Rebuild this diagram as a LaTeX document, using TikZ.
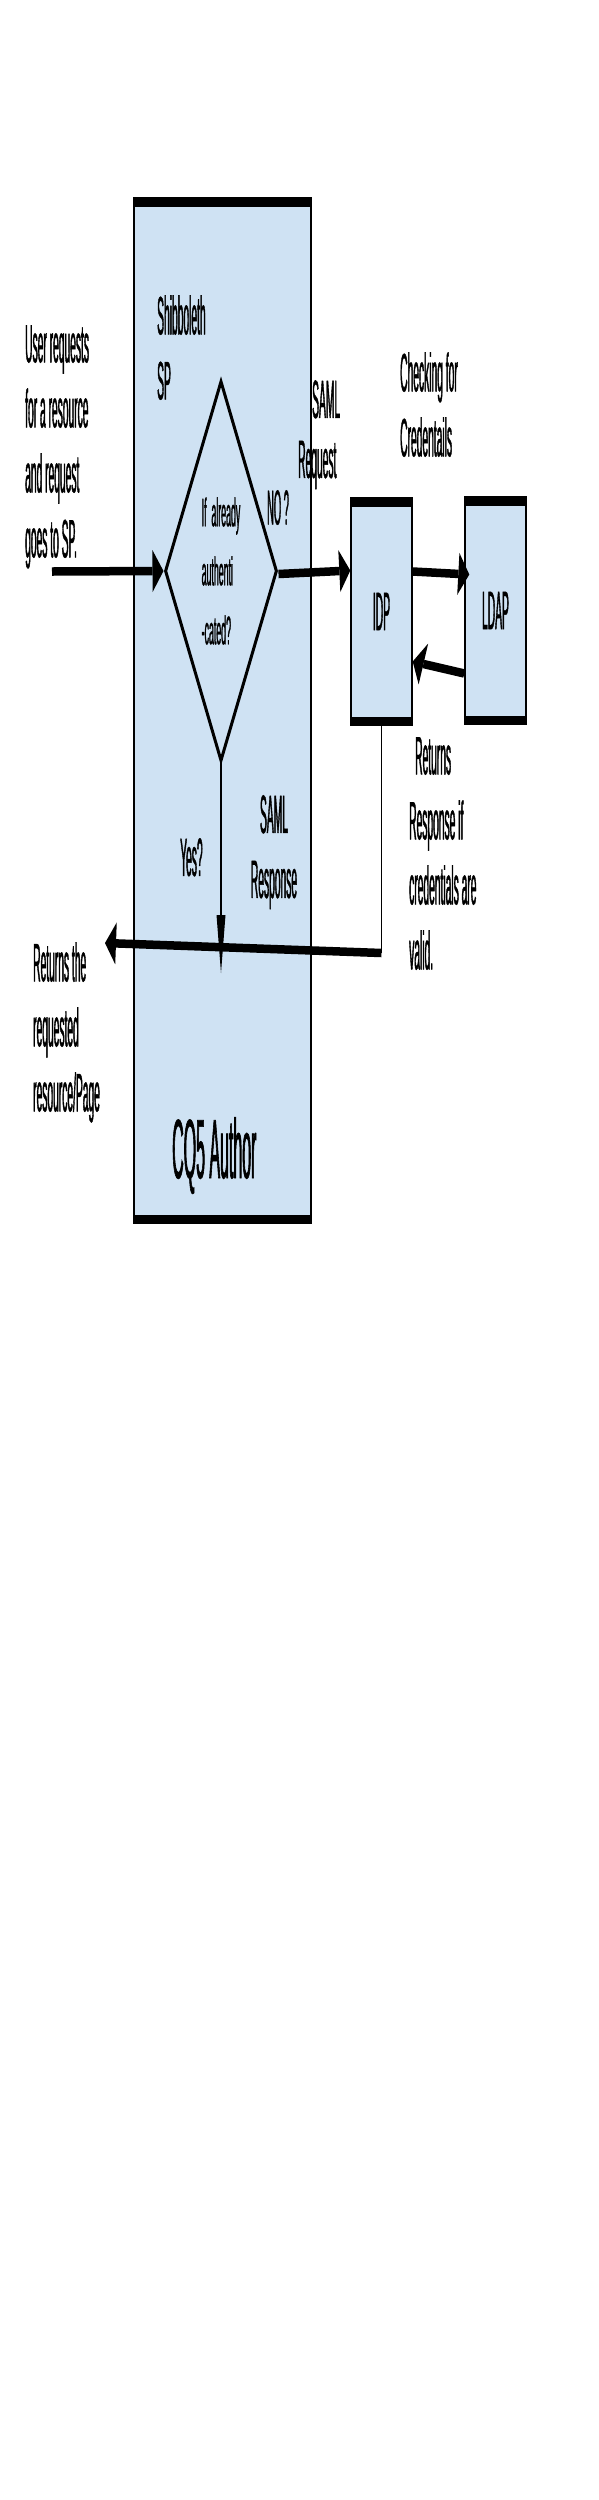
\documentclass[tikz,border=0pt]{standalone}
\usepackage{fontspec}
\setmainfont[FakeStretch=0.19,FakeBold=0.7]{Liberation Sans}
\newfontfamily\diamondfont[FakeStretch=0.22,FakeBold=0.7]{Liberation Sans}
\usetikzlibrary{arrows.meta,shapes.geometric}
\definecolor{boxblue}{HTML}{CFE2F3}

\tikzset{
  barbox/.style={draw=black, line width=1.4pt, fill=boxblue, inner sep=0pt,
    font=\fontsize{54}{65}\selectfont,
    path picture={
      \fill[black] (path picture bounding box.north west) rectangle ([yshift=-8.5pt]path picture bounding box.north east);
      \fill[black] (path picture bounding box.south west) rectangle ([yshift=8.5pt]path picture bounding box.south east);
    }},
  label text/.style={inner sep=0pt, anchor=north west, align=left, font=\fontsize{54}{65}\selectfont},
  fat arrow/.style={line width=8.5pt, -{Triangle[length=11pt,width=42pt,line width=0pt]}},
}

\begin{document}
\begin{tikzpicture}[x=1pt, y=-1pt]
    \useasboundingbox (0,0) rectangle (599,2500);
    \fill[white] (0,0) rectangle (599,2500);

    \node[barbox, minimum width=177pt, minimum height=1025pt] (cqfive) at (222.5,710.5) {};
    \node[barbox, minimum width=61pt, minimum height=227pt] (idp) at (381.5,611.5) {IDP};
    \node[barbox, minimum width=61pt, minimum height=227pt] (ldap) at (495.5,610.5) {LDAP};

    \node[diamond, draw, line width=3pt, aspect=0.295, minimum width=112pt, minimum height=380pt,
          inner sep=0pt, align=left, font=\diamondfont\fontsize{40}{59}\selectfont]
          (authq) at (221,571) {If\ \ already\\authenti\\-cated?};

    \node[label text] (shibsp) at (157,295) {Shibboleth\\SP};
    \node[label text] (userreq) at (25,325) {User requests\\for a resource\\and request\\goes to SP.};
    \node[label text, font=\fontsize{54}{60}\selectfont] (samlreq) at (312,380) {SAML\\\hspace*{-14pt}Request};
    \node[label text, font=\fontsize{49}{60}\selectfont] (noq) at (267,490) {NO ?};
    \node[label text] (checking) at (400,352) {Checking for\\Credentails};
    \node[label text] (yesq) at (180,838) {Yes?};
    \node[label text, align=center, anchor=north] (samlresp) at (274,795) {SAML\\Response};
    \node[label text] (returnsresp) at (409,737) {\hspace*{6pt}Returns\\Response if\\credentials are\\valid.};
    \node[label text] (returnspage) at (33,942) {Returns the\\requested\\resource/Page};
    \node[label text, font=\fontsize{84}{100}\selectfont] (cqlabel) at (172,1117) {CQ5 Author};

    \coordinate (userstart) at (52,571.5);
    \coordinate (retcorner) at (382,953);
    \coordinate (rettip) at (105,943);
    \coordinate (yestip) at (221,973);

    \draw[fat arrow] (userstart) -- (authq.west);
    \draw[fat arrow] ([yshift=-3pt]authq.east) -- ([yshift=41pt]idp.west);
    \draw[fat arrow] ([yshift=40pt]idp.east) -- ([xshift=5pt,yshift=36pt]ldap.west);
    \draw[fat arrow] ([yshift=-63pt]ldap.west) -- ([yshift=-50pt]idp.east);

    \draw[line width=1.4pt] (idp.south) -- (idp.south |- retcorner);
    \draw[fat arrow] (idp.south |- retcorner) -- (rettip);
    \draw[line width=1.4pt, -{Triangle[length=58pt,width=9pt,line width=0pt]}] (authq.south) -- (yestip);
\end{tikzpicture}
\end{document}
